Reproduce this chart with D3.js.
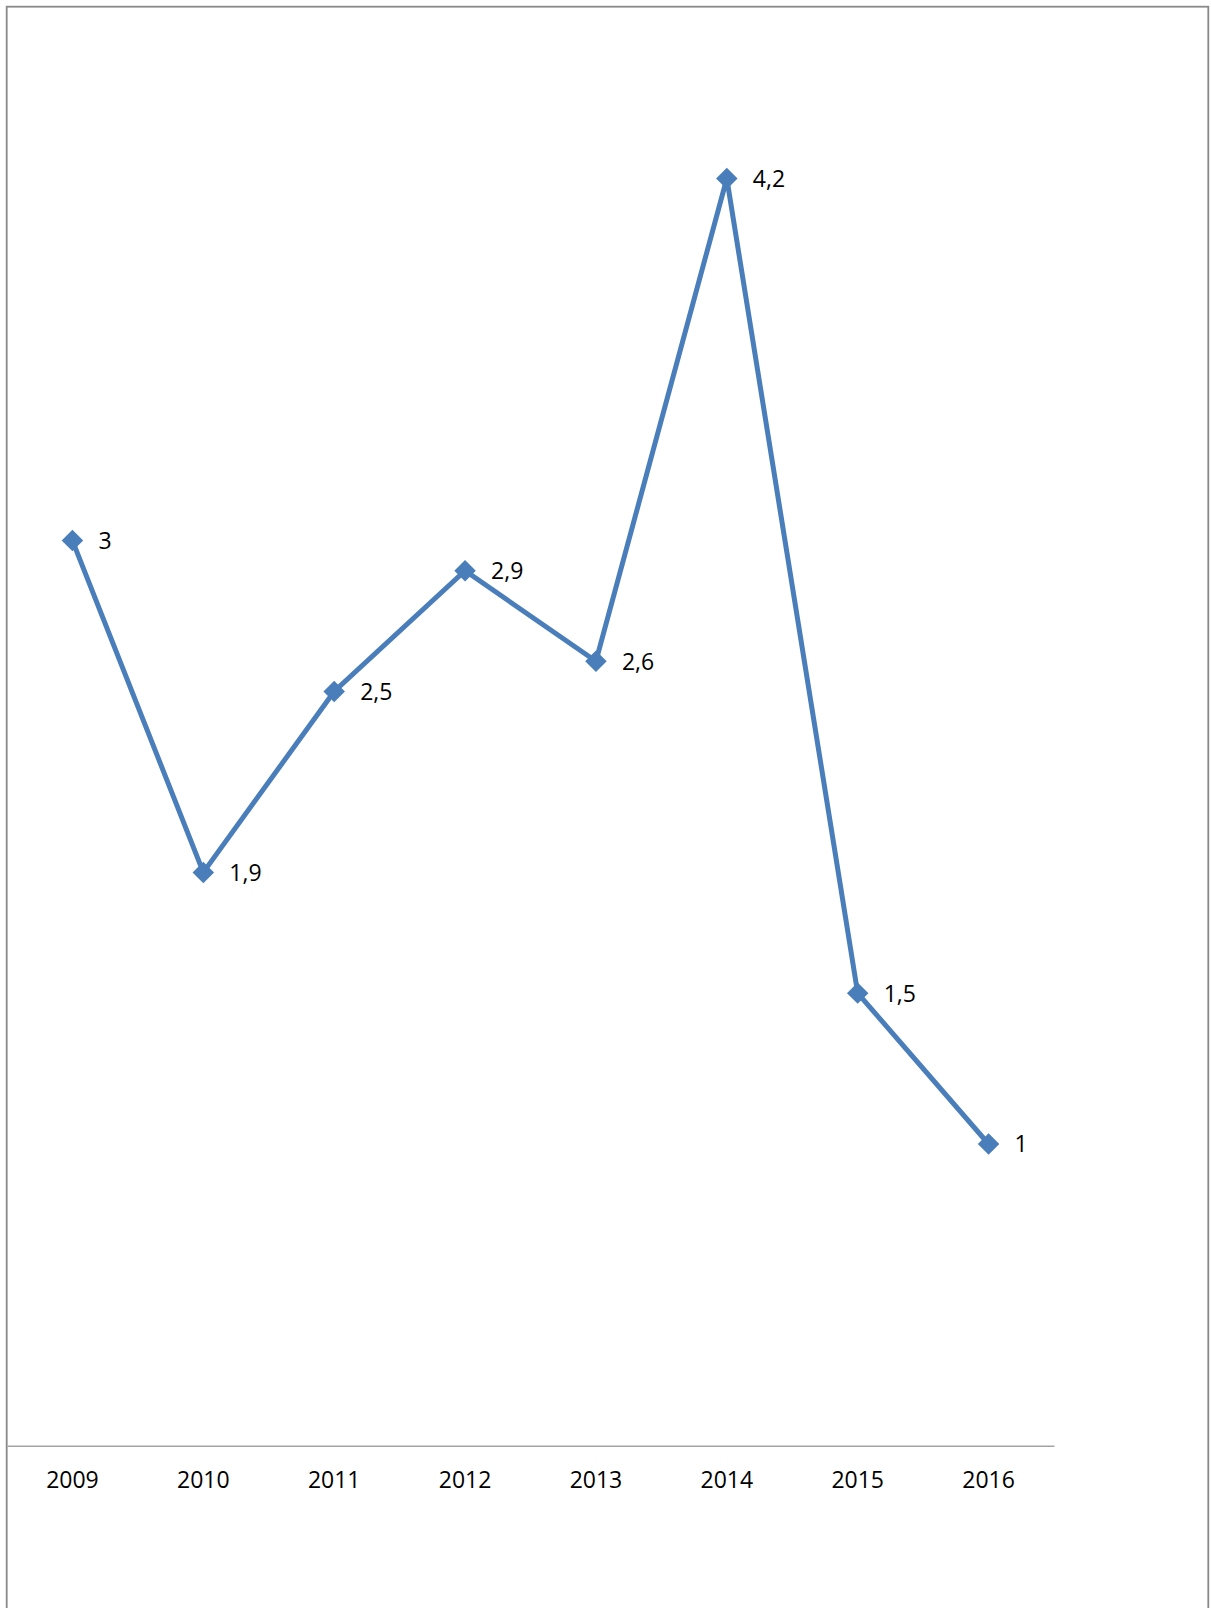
<!DOCTYPE html>
<html>
<head>
<meta charset="utf-8">
<script src="https://cdn.jsdelivr.net/npm/d3@7"></script>
<style>
  body { margin: 0; background: #fff; }
  svg { display: block; }
</style>
</head>
<body>
<svg id="chart" width="1211" height="1608"></svg>
<script>
// data
var years = ["2009", "2010", "2011", "2012", "2013", "2014", "2015", "2016"];
var values = [3, 1.9, 2.5, 2.9, 2.6, 4.2, 1.5, 1];
var labels = ["3", "1,9", "2,5", "2,9", "2,6", "4,2", "1,5", "1"];

var svg = d3.select("#chart");
var font = "'Open Sans', 'Noto Sans', sans-serif";

//outer frame (bottom runs off the page)
svg.append("rect")
    .attr("x", 6.7)
    .attr("y", 6.7)
    .attr("width", 1201.6)
    .attr("height", 1700)
    .attr("fill", "none")
    .attr("stroke", "#898989")
    .attr("stroke-width", 1.8)

var xScale = d3.scaleBand()
    .domain(years)
    .range([7, 1054])

var yScale = d3.scaleLinear()
    .domain([0, 4.5])
    .range([1445.7, 88])

//category axis
var xAxis = d3.axisBottom(xScale).tickSize(0).tickPadding(26)
var gx = svg.append("g")
    .attr("transform", "translate(0," + yScale(0) + ")")
    .call(xAxis)
gx.select(".domain")
    .attr("stroke", "#a3a3a3")
    .attr("stroke-width", 1.5)
gx.selectAll("text")
    .attr("font-family", font)
    .attr("font-size", 23)
    .attr("fill", "#000")

var cx = d => xScale(d) + xScale.bandwidth() / 2

//line
var line = d3.line()
    .x((d, i) => cx(years[i]))
    .y(d => yScale(d))

svg.append("path")
    .datum(values)
    .attr("d", line)
    .attr("fill", "none")
    .attr("stroke", "#4a7ebb")
    .attr("stroke-width", 5)
    .attr("stroke-linejoin", "miter")

//diamond markers
var diamond = d3.symbol().type(d3.symbolSquare).size(230)
svg.selectAll(".marker")
    .data(values)
    .enter()
    .append("path")
    .attr("class", "marker")
    .attr("d", diamond)
    .attr("fill", "#4a7ebb")
    .attr("transform", (d, i) => "translate(" + cx(years[i]) + "," + yScale(d) + ") rotate(45)")

//value labels
svg.selectAll(".vlabel")
    .data(values)
    .enter()
    .append("text")
    .attr("class", "vlabel")
    .attr("x", (d, i) => cx(years[i]) + 26)
    .attr("y", d => yScale(d) + 8.5)
    .attr("font-family", font)
    .attr("font-size", 23)
    .attr("fill", "#000")
    .text((d, i) => labels[i])
</script>
</body>
</html>
